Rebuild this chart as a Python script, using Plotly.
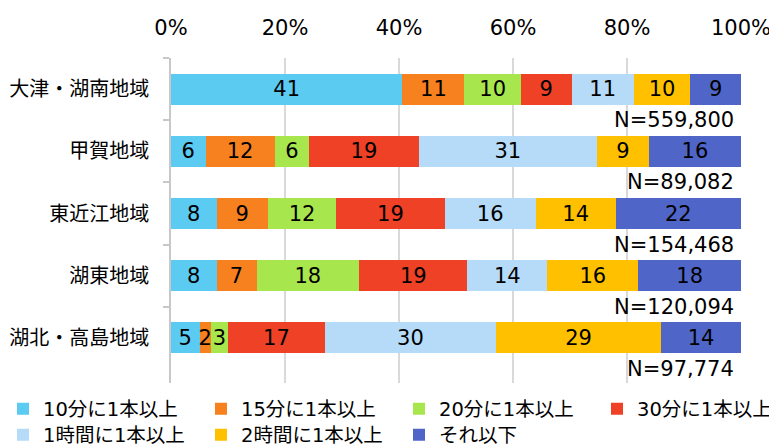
import plotly.graph_objects as go

categories = ["大津・湖南地域", "甲賀地域", "東近江地域", "湖東地域", "湖北・高島地域"]
series_names = ["10分に1本以上", "15分に1本以上", "20分に1本以上", "30分に1本以上",
                "1時間に1本以上", "2時間に1本以上", "それ以下"]
s10 = [41, 6, 8, 8, 5]
s15 = [11, 12, 9, 7, 2]
s20 = [10, 6, 12, 18, 3]
s30 = [9, 19, 19, 19, 17]
s1h = [11, 31, 16, 14, 30]
s2h = [10, 9, 14, 16, 29]
sless = [9, 16, 22, 18, 14]
n_labels = ["N=559,800", "N=89,082", "N=154,468", "N=120,094", "N=97,774"]
tick_vals = [0, 20, 40, 60, 80, 100]
tick_text = ["0%", "20%", "40%", "60%", "80%", "100%"]

colors = ["#5BCBF2", "#F7811F", "#A8E64D", "#EE4126", "#B5DBF8", "#FFC000", "#4F66C8"]
all_series = [s10, s15, s20, s30, s1h, s2h, sless]

# page body has an 8px default margin, so the figure is drawn 8px smaller
OFF = 8
W, H = 777 - OFF, 445 - OFF
FONT = "DejaVu Sans, Noto Sans CJK JP, sans-serif"

# plot area on page: x 171..741, y 58..383
PL, PR, PT, PB = 171, 741, 58, 383

# legend grid (page pixel positions of each entry's origin / row centre)
leg_cols_px = [3, 201, 399, 597]
leg_rows_px = [409, 435]
leg_slots = [(0, 0), (0, 1), (0, 2), (0, 3), (1, 0), (1, 1), (1, 2)]

fig = go.Figure()
layout_legends = {}
for k, (name, vals, col) in enumerate(zip(series_names, all_series, colors)):
    lname = "legend" if k == 0 else f"legend{k + 1}"
    fig.add_trace(go.Bar(
        name=name, y=categories, x=vals, orientation="h",
        marker=dict(color=col, line=dict(width=0)),
        text=vals, texttemplate="%{text}", textposition="inside", textangle=0,
        insidetextanchor="middle", constraintext="none",
        textfont=dict(color="#000000", size=21, family=FONT),
        legend=lname, hoverinfo="x+name",
    ))
    r, c = leg_slots[k]
    layout_legends[lname] = dict(
        xref="paper", yref="paper",
        x=(leg_cols_px[c] - PL) / (PR - PL), y=(PB - leg_rows_px[r]) / (PB - PT),
        xanchor="left", yanchor="middle",
        font=dict(size=19.5, family=FONT, color="#000000"),
        bgcolor="rgba(0,0,0,0)", borderwidth=0, itemclick=False,
    )

for i, lab in enumerate(n_labels):
    fig.add_annotation(x=100, y=i + 0.5, xref="x", yref="y", text=lab,
                       showarrow=False, xanchor="right", yanchor="middle", xshift=-5,
                       font=dict(size=21, color="#000000", family=FONT))

fig.update_layout(
    barmode="stack", barnorm="percent", bargap=0.5,
    width=W, height=H,
    margin=dict(l=PL - OFF, r=777 - PR, t=PT - OFF, b=445 - PB, autoexpand=False),
    paper_bgcolor="white", plot_bgcolor="white",
    font=dict(family=FONT, color="#000000", size=19),
    uniformtext=dict(minsize=21, mode="show"),
    showlegend=True,
    **layout_legends,
)
fig.update_xaxes(side="top", range=[0, 100], tickvals=tick_vals, ticktext=tick_text,
                 showgrid=True, gridcolor="#D9D9D9", gridwidth=1.5, zeroline=False,
                 showline=False, ticks="outside", ticklen=14, tickcolor="rgba(0,0,0,0)",
                 tickfont=dict(size=21, family=FONT), automargin=False, fixedrange=True)
fig.update_yaxes(autorange="reversed", showline=True, linecolor="#C8C8C8", linewidth=1.5,
                 ticks="outside", tickson="boundaries", ticklen=6, tickcolor="#C8C8C8",
                 tickwidth=1.5, ticklabelstandoff=16,
                 tickfont=dict(size=20, family=FONT), showgrid=False,
                 automargin=False, fixedrange=True)

fig.write_html("out.html")
